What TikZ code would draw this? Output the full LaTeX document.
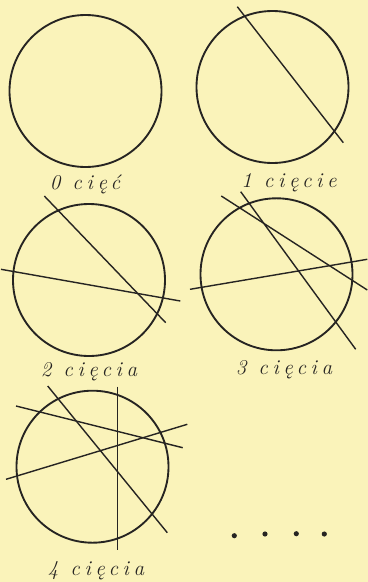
\documentclass[tikz,border=0pt]{standalone}
\usepackage{fontspec}
\usetikzlibrary{positioning}
\newfontfamily\handfont{Latin Modern Roman}[LetterSpace=22]
\definecolor{paper}{RGB}{250,243,186}
\definecolor{ink}{RGB}{38,36,34}

\begin{document}
\begin{tikzpicture}[x=0.03cm, y=-0.03cm,
    ring/.style={circle, draw=ink, line width=1.6pt, minimum size=4.56cm, inner sep=0pt},
    cut/.style={draw=ink, line width=1.2pt},
    tag/.style={text=ink, inner sep=0pt, font=\handfont\itshape\fontsize{18}{21}\selectfont},
    dot/.style={circle, fill=ink, minimum size=4.4pt, inner sep=0pt}
]

% Paper (fixes the picture size)
\path[use as bounding box, fill=paper] (0,0) rectangle (368,582);

% Circles
\node[ring] (c0) at (85.5, 91) {};
\node[ring] (c1) at (272.5, 87) {};
\node[ring] (c2) at (89, 280) {};
\node[ring] (c3) at (276.5, 274.3) {};
\node[ring] (c4) at (92.5, 466.7) {};

% Labels
\node[tag] (t0) at (85, 184) {0 cięć};
\node[tag] (t1) at (289, 183) {1 cięcie};
\node[tag] (t2) at (89, 372) {2 cięcia};
\node[tag] (t3) at (284, 370) {3 cięcia};
\node[tag] (t4) at (96, 571) {4 cięcia};

% One cut
\coordinate (p1a) at (237.3, 6.7);
\coordinate (q1a) at (343.3, 142.7);
\draw[cut] (p1a) -- (q1a);

% Two cuts
\coordinate (p2a) at (44.3, 196);
\coordinate (q2a) at (165.7, 322.7);
\coordinate (p2b) at (1, 269.3);
\coordinate (q2b) at (180.3, 301);
\draw[cut] (p2a) -- (q2a);
\draw[cut] (p2b) -- (q2b);

% Three cuts
\coordinate (p3a) at (240.7, 191.7);
\coordinate (q3a) at (355.7, 349.3);
\coordinate (p3b) at (221.3, 196);
\coordinate (q3b) at (367.3, 290);
\coordinate (p3c) at (190, 289.3);
\coordinate (q3c) at (367.3, 259.3);
\draw[cut] (p3a) -- (q3a);
\draw[cut] (p3b) -- (q3b);
\draw[cut] (p3c) -- (q3c);

% Four cuts
\coordinate (p4a) at (47.7, 386);
\coordinate (q4a) at (167.3, 532.7);
\coordinate (p4b) at (16, 406);
\coordinate (q4b) at (182.7, 447.7);
\coordinate (p4c) at (6, 479.3);
\coordinate (q4c) at (187.3, 424.3);
\coordinate (p4d) at (117.3, 386.7);
\coordinate (q4d) at (117.3, 550);
\draw[cut] (p4a) -- (q4a);
\draw[cut] (p4b) -- (q4b);
\draw[cut] (p4c) -- (q4c);
\draw[cut] (p4d) -- (q4d);

% And so on
\node[dot] (d1) at (234.3, 535.7) {};
\node[dot] (d2) at (265, 534) {};
\node[dot] (d3) at (296.3, 533.7) {};
\node[dot] (d4) at (324.3, 534) {};

\end{tikzpicture}
\end{document}
